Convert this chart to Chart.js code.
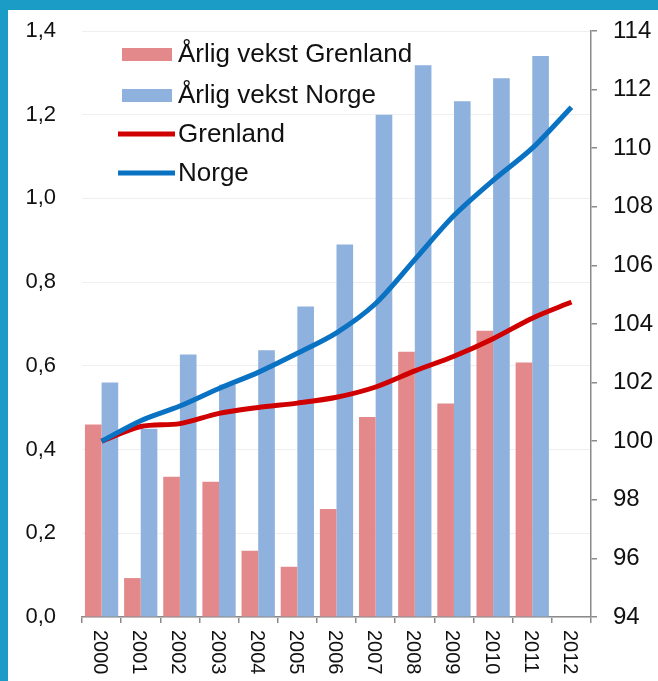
<!DOCTYPE html>
<html>
<head>
<meta charset="utf-8">
<script src="https://cdn.jsdelivr.net/npm/chart.js@4/dist/chart.umd.min.js"></script>
<style>
  html, body { margin:0; padding:0; background:#1a9cc6; width:658px; height:681px; overflow:hidden; }
  #frame { position:absolute; left:8px; top:10px; width:650px; height:671px; background:#fff; }
  canvas { display:block; }
</style>
</head>
<body>
<div id="frame"><canvas id="chart" width="650" height="671"></canvas></div>
<script>
const years = ['2000','2001','2002','2003','2004','2005','2006','2007','2008','2009','2010','2011','2012'];
const growthGrenland = [0.46, 0.093, 0.335, 0.323, 0.158, 0.12, 0.258, 0.478, 0.634, 0.51, 0.684, 0.608, null];
const growthNorge = [0.56, 0.45, 0.627, 0.555, 0.637, 0.742, 0.89, 1.20, 1.318, 1.232, 1.287, 1.34, null];
const indexGrenland = [100.0, 100.5, 100.6, 100.95, 101.15, 101.3, 101.5, 101.85, 102.4, 102.9, 103.5, 104.2, 104.75];
const indexNorge = [100.0, 100.7, 101.2, 101.8, 102.35, 103.0, 103.7, 104.7, 106.2, 107.7, 108.9, 110.0, 111.4];
const leftTicks = ['0,0','0,2','0,4','0,6','0,8','1,0','1,2','1,4'];
const rightTicks = ['94','96','98','100','102','104','106','108','110','112','114'];
const legendItems = [
    { label:'Årlig vekst Grenland', color:'#e3898b', type:'box' },
    { label:'Årlig vekst Norge', color:'#8fb1dd', type:'box' },
    { label:'Grenland', color:'#d00000', type:'line' },
    { label:'Norge', color:'#0a72c2', type:'line' }
];

const FONT = "'Liberation Sans', Arial, sans-serif";

// legend inside the plot + x labels rotated clockwise
const overlay = {
    id:'overlay',
    afterDraw(chart){
        const c = chart.ctx;
        const area = chart.chartArea;
        const xs = chart.scales.x;
        c.save();
        c.fillStyle = '#111';
        c.font = '20px ' + FONT;
        c.textAlign = 'left';
        c.textBaseline = 'middle';
        years.forEach((y,i)=>{
            const px = xs.getPixelForValue(i) - 2;
            c.save();
            c.translate(px, area.bottom + 13);
            c.rotate(Math.PI/2);
            c.fillText(y, 0, 0);
            c.restore();
        });

        const rowY = [44, 85, 124, 163];
        legendItems.forEach((it,i)=>{
            const y = rowY[i];
            if(it.type==='box'){
                c.fillStyle = it.color;
                c.fillRect(114, y-6, 50, 13);
            } else {
                c.strokeStyle = it.color;
                c.lineWidth = 5;
                c.beginPath();
                c.moveTo(110, y);
                c.lineTo(167, y);
                c.stroke();
            }
            c.fillStyle = '#111';
            c.font = '26px ' + FONT;
            c.textBaseline = 'middle';
            c.fillText(it.label, 170, y + 1);
        });
        c.restore();
    }
};

function fixY(width){
    return s => { s.width = width; s.paddingTop = 0; s.paddingBottom = 0; };
}

const ctx = document.getElementById('chart').getContext('2d');
const chart = new Chart(ctx,{
    type:'bar',
    data:{
        labels: years,
        datasets:[
            { type:'line', label:'Norge', data:indexNorge, yAxisID:'y2', borderColor:'#0a72c2', borderWidth:5, pointRadius:0, tension:0.3, order:0 },
            { type:'line', label:'Grenland', data:indexGrenland, yAxisID:'y2', borderColor:'#d00000', borderWidth:5, pointRadius:0, tension:0.3, order:1 },
            { label:'Årlig vekst Grenland', data:growthGrenland, yAxisID:'y', backgroundColor:'#e3898b', order:2 },
            { label:'Årlig vekst Norge', data:growthNorge, yAxisID:'y', backgroundColor:'#8fb1dd', order:3 }
        ]
    },
    options:{
        responsive:false,
        animation:false,
        devicePixelRatio:1,
        layout:{ padding:{ top:21, bottom:58, left:0, right:0 } },
        datasets:{ bar:{ categoryPercentage:0.85, barPercentage:1.0 } },
        plugins:{ legend:{display:false}, tooltip:{enabled:false} },
        scales:{
            x:{
                grid:{ offset:true, drawOnChartArea:false, drawTicks:true, tickLength:6, color:'#8a8a8a', lineWidth:1.5 },
                border:{ display:true, color:'#8a8a8a', width:1.5 },
                ticks:{ display:false }
            },
            y:{
                position:'left',
                min:0, max:1.4,
                afterFit: fixY(74),
                grid:{ color:'#efefef', drawTicks:false },
                border:{ display:false },
                ticks:{ stepSize:0.2, padding:26, color:'#111', font:{ family:FONT, size:22 },
                    callback:(v,i)=>leftTicks[i] }
            },
            y2:{
                position:'right',
                min:94, max:114,
                afterFit: fixY(67),
                grid:{ drawOnChartArea:false, drawTicks:true, tickLength:6, color:'#8a8a8a', lineWidth:1.5 },
                border:{ display:true, color:'#8a8a8a', width:1.5 },
                ticks:{ stepSize:2, padding:16, color:'#111', font:{ family:FONT, size:24 },
                    callback:(v,i)=>rightTicks[i] }
            }
        }
    },
    plugins:[overlay]
});
</script>
</body>
</html>
